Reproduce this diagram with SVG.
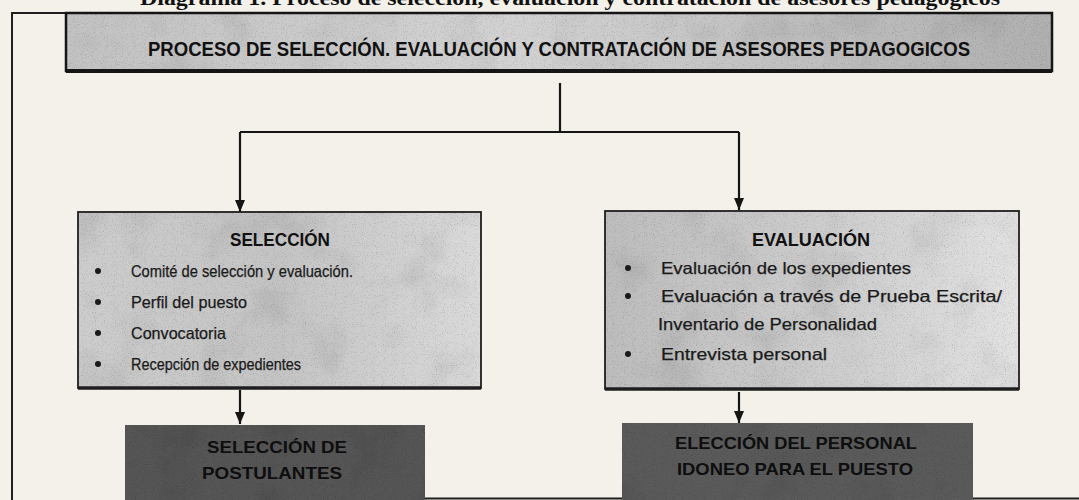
<svg xmlns="http://www.w3.org/2000/svg" width="1079" height="500" viewBox="0 0 1079 500">
<style>
.frame{stroke:#1e1e1e;stroke-width:2;fill:none}
.conn{stroke:#151515;stroke-width:2.2;fill:none}
.head{font-family:"Liberation Sans",Arial,sans-serif;font-weight:bold;fill:#111}
.item{font-family:"Liberation Sans",Arial,sans-serif;font-size:16.5px;fill:#1a1a1a;stroke:#1a1a1a;stroke-width:0.25}
.dark{font-family:"Liberation Sans",Arial,sans-serif;font-weight:bold;font-size:17px;fill:#0e0e0e}
.bul{fill:#1a1a1a}
.cap{font-family:"Liberation Serif","Times New Roman",serif;font-weight:bold;font-size:20px;fill:#111}
</style>
<defs>
<filter id="grain" x="0" y="0" width="1" height="1">
<feTurbulence type="fractalNoise" baseFrequency="0.9" numOctaves="2" seed="4" result="n"/>
<feColorMatrix in="n" type="matrix" values="0.9 0 0 0 0.58  0.9 0 0 0 0.58  0.9 0 0 0 0.58  0 0 0 0 1" result="g"/>
<feTurbulence type="fractalNoise" baseFrequency="0.02" numOctaves="3" seed="9" result="m"/>
<feColorMatrix in="m" type="matrix" values="0.4 0 0 0 0.8  0.4 0 0 0 0.8  0.4 0 0 0 0.8  0 0 0 0 1" result="mg"/>
<feBlend in="g" in2="mg" mode="multiply" result="gg"/>
<feBlend in="SourceGraphic" in2="gg" mode="multiply" result="b"/>
<feComposite in="b" in2="SourceGraphic" operator="in"/>
</filter>
<linearGradient id="gTitle" x1="0" y1="0" x2="1" y2="0">
<stop offset="0" stop-color="#c2c2c2"/><stop offset="0.45" stop-color="#d2d2d2"/><stop offset="0.8" stop-color="#bdbdbd"/><stop offset="1" stop-color="#b0b0b0"/>
</linearGradient>
<linearGradient id="gSel" x1="0" y1="0" x2="1" y2="0">
<stop offset="0" stop-color="#cdcdcd"/><stop offset="0.5" stop-color="#c4c4c4"/><stop offset="1" stop-color="#dadada"/>
</linearGradient>
<linearGradient id="gEva" x1="0" y1="0" x2="1" y2="0">
<stop offset="0" stop-color="#bdbdbd"/><stop offset="0.6" stop-color="#cfcfcf"/><stop offset="1" stop-color="#e2e2e2"/>
</linearGradient>
<marker id="arr" viewBox="0 0 12 10" refX="12" refY="5" markerWidth="12" markerHeight="10" markerUnits="userSpaceOnUse" orient="auto">
<path d="M0,0 L12,5 L0,10 Z" fill="#151515"/>
</marker>
</defs>
<rect x="0" y="0" width="1079" height="500" fill="#f3f1ea"/>
<text class="cap" x="140" y="5" textLength="860" lengthAdjust="spacingAndGlyphs">Diagrama 1. Proceso de selección, evaluación y contratación de asesores pedagógicos</text>
<g id="frame">
<path class="frame" d="M12,500 V13 H66"/>
<path class="frame" d="M125,498.5 H1079"/>
</g>
<g id="title">
<rect x="66" y="13" width="986" height="58" fill="url(#gTitle)" filter="url(#grain)"/>
<rect x="66" y="13" width="986" height="58" fill="none" stroke="#151515" stroke-width="2.5"/>
<line x1="66" y1="71" x2="1052" y2="71" stroke="#151515" stroke-width="4"/>
<text class="head" x="559" y="56" font-size="19.5" text-anchor="middle" textLength="822" lengthAdjust="spacingAndGlyphs">PROCESO DE SELECCIÓN. EVALUACIÓN Y CONTRATACIÓN DE ASESORES PEDAGOGICOS</text>
</g>
<g id="connectors">
<path class="conn" d="M560,83 V132"/>
<path class="conn" d="M240,132 H739"/>
<path class="conn" d="M240,132 V212" marker-end="url(#arr)"/>
<path class="conn" d="M739,132 V210" marker-end="url(#arr)"/>
<path class="conn" d="M240,390 V424" marker-end="url(#arr)"/>
<path class="conn" d="M739,392 V423" marker-end="url(#arr)"/>
</g>
<g id="seleccion">
<rect x="78" y="212" width="403" height="176" fill="url(#gSel)" filter="url(#grain)"/>
<rect x="78" y="212" width="403" height="176" fill="none" stroke="#1e1e1e" stroke-width="1.8"/>
<line x1="78" y1="388" x2="481" y2="388" stroke="#1e1e1e" stroke-width="3.5"/>
<text class="head" x="280" y="246" font-size="18" text-anchor="middle" textLength="100" lengthAdjust="spacingAndGlyphs">SELECCIÓN</text>
<circle class="bul" cx="98" cy="271" r="3"/>
<circle class="bul" cx="98" cy="302" r="3"/>
<circle class="bul" cx="98" cy="333" r="3"/>
<circle class="bul" cx="98" cy="364" r="3"/>
<text class="item" x="131" y="277" textLength="222" lengthAdjust="spacingAndGlyphs">Comité de selección y evaluación.</text>
<text class="item" x="131" y="308" textLength="116" lengthAdjust="spacingAndGlyphs">Perfil del puesto</text>
<text class="item" x="131" y="339" textLength="95" lengthAdjust="spacingAndGlyphs">Convocatoria</text>
<text class="item" x="131" y="370" textLength="170" lengthAdjust="spacingAndGlyphs">Recepción de expedientes</text>
</g>
<g id="evaluacion">
<rect x="605" y="211" width="414" height="178" fill="url(#gEva)" filter="url(#grain)"/>
<rect x="605" y="211" width="414" height="178" fill="none" stroke="#1e1e1e" stroke-width="1.8"/>
<line x1="605" y1="389" x2="1019" y2="389" stroke="#1e1e1e" stroke-width="3.5"/>
<text class="head" x="811" y="246" font-size="18" text-anchor="middle" textLength="118" lengthAdjust="spacingAndGlyphs">EVALUACIÓN</text>
<circle class="bul" cx="628" cy="268" r="3"/>
<circle class="bul" cx="628" cy="296" r="3"/>
<circle class="bul" cx="628" cy="354" r="3"/>
<text class="item" x="661" y="274" textLength="250" lengthAdjust="spacingAndGlyphs">Evaluación de los expedientes</text>
<text class="item" x="661" y="302" textLength="341" lengthAdjust="spacingAndGlyphs">Evaluación a través de Prueba Escrita/</text>
<text class="item" x="658" y="330" textLength="219" lengthAdjust="spacingAndGlyphs">Inventario de Personalidad</text>
<text class="item" x="661" y="360" textLength="166" lengthAdjust="spacingAndGlyphs">Entrevista personal</text>
</g>
<g id="postulantes">
<rect x="125" y="425" width="300" height="75" fill="#555555" filter="url(#grain)"/>
<text class="dark" x="277" y="453" text-anchor="middle" textLength="140" lengthAdjust="spacingAndGlyphs">SELECCIÓN DE</text>
<text class="dark" x="272" y="479" text-anchor="middle" textLength="140" lengthAdjust="spacingAndGlyphs">POSTULANTES</text>
</g>
<g id="eleccion">
<rect x="622" y="423" width="351" height="77" fill="#5a5a5a" filter="url(#grain)"/>
<text class="dark" x="796" y="449" text-anchor="middle" textLength="242" lengthAdjust="spacingAndGlyphs">ELECCIÓN DEL PERSONAL</text>
<text class="dark" x="795" y="475" text-anchor="middle" textLength="236" lengthAdjust="spacingAndGlyphs">IDONEO PARA EL PUESTO</text>
</g>
</svg>
